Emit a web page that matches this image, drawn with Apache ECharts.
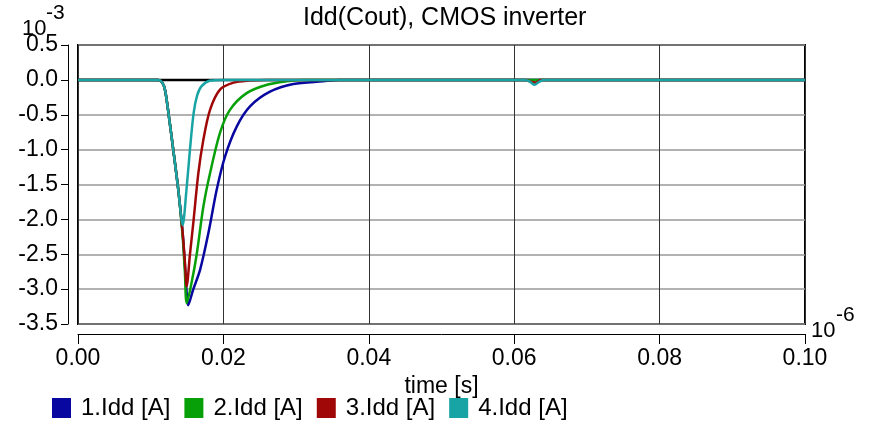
<!DOCTYPE html>
<html>
<head>
<meta charset="utf-8">
<title>Idd(Cout), CMOS inverter</title>
<script src="https://cdn.jsdelivr.net/npm/echarts@6/dist/echarts.min.js"></script>
<style>
  html, body { margin: 0; padding: 0; background: #fff; }
  #chart { width: 870px; height: 424px; }
</style>
</head>
<body>
<div id="chart"></div>
<script>
// time in units of 1e-6 s, current in units of 1e-3 A
const xTicks = [0, 0.02, 0.04, 0.06, 0.08, 0.1]
const yTicks = [0.5, 0.0, -0.5, -1.0, -1.5, -2.0, -2.5, -3.0, -3.5]
const seriesNames = ['1.Idd [A]', '2.Idd [A]', '3.Idd [A]', '4.Idd [A]']
const colors = ['#0808a0', '#08a008', '#a00808', '#18a4a4']

const tBase = [0, 0.1]
const vBase = [0, 0]

const t1 = [0, 0.0110, 0.0116, 0.0120, 0.0126, 0.0131, 0.0138, 0.0144, 0.0148, 0.01517, 0.0158, 0.0168, 0.01793, 0.01907, 0.02022, 0.02183, 0.02366, 0.02641, 0.02962, 0.0337, 0.036, 0.1]
const v1 = [0, 0, -0.04, -0.16, -0.6, -1.0, -1.58, -2.2, -2.8, -3.23, -3.02, -2.72, -2.2, -1.58, -1.1, -0.67, -0.38, -0.17, -0.06, -0.02, 0, 0]

const t2 = [0, 0.0110, 0.0116, 0.0120, 0.0126, 0.0131, 0.0138, 0.0144, 0.0147, 0.01495, 0.0156, 0.01633, 0.01724, 0.01816, 0.01953, 0.0209, 0.0232, 0.026, 0.0287, 0.031, 0.1]
const v2 = [0, 0, -0.04, -0.16, -0.6, -1.0, -1.58, -2.25, -2.75, -3.2, -2.92, -2.5, -1.82, -1.34, -0.76, -0.43, -0.19, -0.07, -0.02, 0, 0]

const t3 = [0, 0.0110, 0.0116, 0.0120, 0.0126, 0.0131, 0.0138, 0.0144, 0.0147, 0.01495, 0.0154, 0.01586, 0.01655, 0.01724, 0.01816, 0.01953, 0.0214, 0.0236, 0.026, 0.0615, 0.0624, 0.063, 0.0636, 0.1]
const v3 = [0, 0, -0.04, -0.16, -0.6, -1.0, -1.58, -2.2, -2.6, -2.96, -2.5, -2.05, -1.34, -0.86, -0.43, -0.14, -0.04, -0.01, 0, 0, -0.03, -0.04, 0, 0]

const t4 = [0, 0.0110, 0.0116, 0.0120, 0.0126, 0.0131, 0.0138, 0.0144, 0.0149, 0.0154, 0.0159, 0.0164, 0.0170, 0.0182, 0.0200, 0.0615, 0.0622, 0.0628, 0.0634, 0.0640, 0.1]
const v4 = [0, 0, -0.04, -0.16, -0.6, -1.0, -1.58, -2.08, -1.6, -1.0, -0.48, -0.22, -0.09, -0.01, 0, 0, -0.03, -0.07, -0.03, 0, 0]

const zip = (t, v) => t.map((x, i) => [x, v[i]])

const font = 'Liberation Sans, Arial, sans-serif'
const chart = echarts.init(document.getElementById('chart'))

const lineSeries = (name, t, v, color) => ({
  name: name,
  type: 'line',
  data: zip(t, v),
  showSymbol: false,
  smooth: 0.3,
  color: color,
  lineStyle: { color: color, width: 2.5 },
  animation: false
})

chart.setOption({
  animation: false,
  title: {
    text: 'Idd(Cout), CMOS inverter',
    left: 298,
    top: 1,
    textStyle: { fontFamily: font, fontSize: 25, fontWeight: 'normal', color: '#000' }
  },
  grid: {
    left: 78,
    right: 65,
    top: 45,
    bottom: 100,
    show: true,
    borderColor: '#000',
    borderWidth: 2,
    backgroundColor: 'transparent'
  },
  legend: {
    data: seriesNames,
    left: 52,
    top: 396,
    icon: 'rect',
    itemWidth: 19,
    itemHeight: 20,
    itemGap: 14,
    padding: 0,
    textStyle: { fontFamily: font, fontSize: 24, color: '#000', padding: [0, 0, 0, 5] }
  },
  xAxis: {
    type: 'value',
    min: xTicks[0],
    max: xTicks[xTicks.length - 1],
    interval: 0.02,
    offset: 10,
    name: 'time [s]',
    nameLocation: 'middle',
    nameGap: 37,
    nameTextStyle: { fontFamily: font, fontSize: 23, color: '#000' },
    axisLine: { show: true, onZero: false, lineStyle: { color: '#000', width: 1 } },
    axisTick: { show: true, length: 10, lineStyle: { color: '#000' } },
    axisLabel: {
      fontFamily: font, fontSize: 23, color: '#000', margin: 13,
      formatter: v => v.toFixed(2)
    },
    splitLine: { show: true, lineStyle: { color: '#333', width: 1 } }
  },
  yAxis: {
    type: 'value',
    min: yTicks[yTicks.length - 1],
    max: yTicks[0],
    interval: 0.5,
    offset: 10,
    axisLine: { show: true, onZero: false, lineStyle: { color: '#000', width: 1 } },
    axisTick: { show: true, length: 7, lineStyle: { color: '#000' } },
    axisLabel: {
      fontFamily: font, fontSize: 23, color: '#000', margin: 10,
      formatter: v => v.toFixed(1)
    },
    splitLine: { show: true, lineStyle: { color: '#999', width: 1.5 } }
  },
  graphic: [
    { type: 'text', left: 22, top: 18, style: { text: '10', font: '22px ' + font, fill: '#000' } },
    { type: 'text', left: 46, top: 3, style: { text: '-3', font: '21px ' + font, fill: '#000' } },
    { type: 'text', left: 811, top: 320, style: { text: '10', font: '22px ' + font, fill: '#000' } },
    { type: 'text', left: 836, top: 305, style: { text: '-6', font: '21px ' + font, fill: '#000' } }
  ],
  series: [
    {
      name: 'base',
      type: 'line',
      data: zip(tBase, vBase),
      showSymbol: false,
      lineStyle: { color: '#000', width: 2.5 },
      animation: false
    },
    lineSeries(seriesNames[0], t1, v1, colors[0]),
    lineSeries(seriesNames[1], t2, v2, colors[1]),
    lineSeries(seriesNames[2], t3, v3, colors[2]),
    lineSeries(seriesNames[3], t4, v4, colors[3])
  ]
})
</script>
</body>
</html>
